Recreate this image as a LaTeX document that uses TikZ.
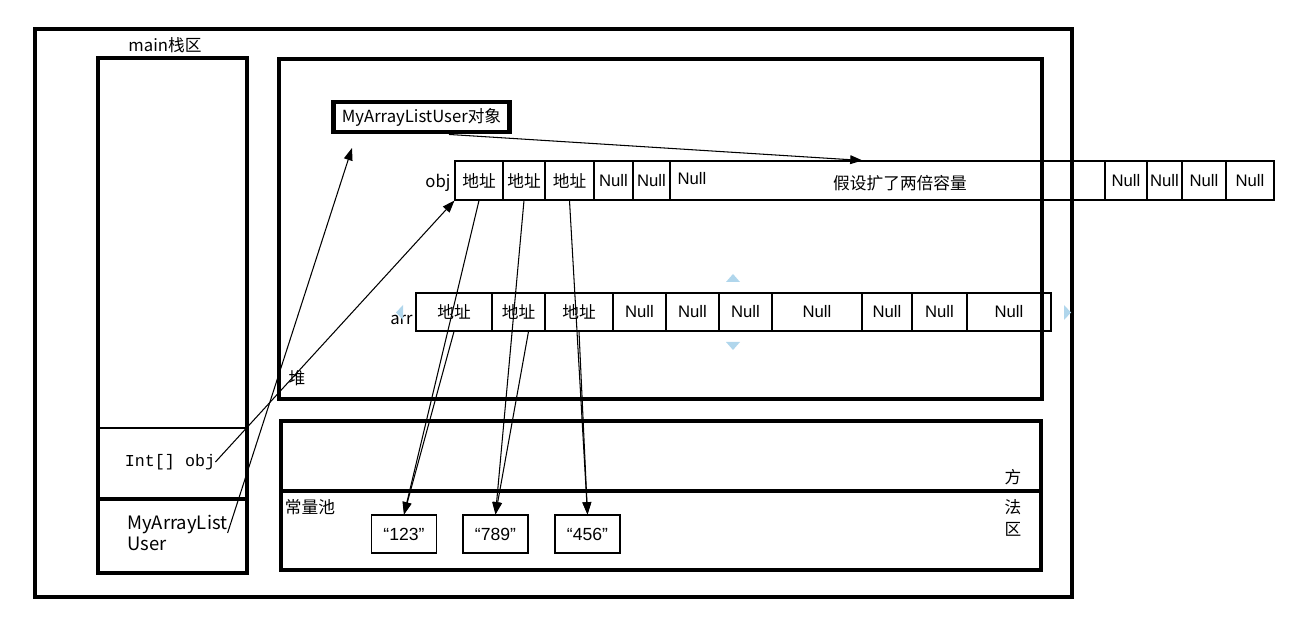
\documentclass[tikz,border=0pt]{standalone}
\usepackage{fontspec}
\setmainfont{Noto Sans CJK SC}
\newfontfamily\arialf{Liberation Sans}
\newfontfamily\monof{Liberation Mono}
\usetikzlibrary{arrows.meta,calc,positioning}
\definecolor{handleblue}{RGB}{176,214,236}
\tikzset{
  region/.style={draw, line width=2.4pt},
  objbox/.style={draw, line width=2.8pt, minimum width=3.52cm, minimum height=0.6cm, inner sep=0pt},
  cell/.style={draw, line width=0.6pt, inner sep=0pt},
  strbox/.style={draw, line width=0.6pt, minimum width=1.3cm, minimum height=0.76cm, font=\arialf\fontsize{10}{12}\selectfont},
  lbl/.style={inner sep=0pt},
  ref/.style={-{Triangle[length=7pt, width=5pt]}, line width=0.6pt},
  handle/.style={fill=handleblue},
}

\begin{document}
\begin{tikzpicture}[x=0.02cm, y=-0.02cm, font=\fontsize{9.5}{11}\selectfont]
  \useasboundingbox (0,0) rectangle (1296,617);

  % Regions
  \draw[region] (35,29) rectangle (1072,597);
  \draw[region] (98,58) rectangle (247,573);
  \draw[region] (279,59) rectangle (1042,399);
  \draw[region] (281,421) rectangle (1041,570);

  % Stack frame
  \draw[line width=0.6pt] (100,428) -- (245,428);
  \draw[region] (98,499) -- (247,499);
  \node[lbl] (stack) at (165,45) {main栈区};
  \node[lbl, font=\monof\fontsize{9.5}{11}\selectfont] (intobj) at (170,462) {Int[] obj};
  \node[lbl, anchor=west, align=left, font=\fontsize{10.5}{12}\selectfont] (user) at (127,533) {MyArrayList\\User};

  % Heap
  \node[lbl] (heap) at (297,378) {堆};
  \node[objbox] (obj) at (421.5,117) {MyArrayListUser对象};
  \coordinate (usertip) at (352,148);

  % obj array (doubled capacity)
  \foreach \l/\r/\t [count=\i] in {455/503/地址, 503/545/地址, 545/594/地址, 594/633/{\arialf Null}, 633/670/{\arialf Null}, 670/1105/{}, 1105/1147/{\arialf Null}, 1147/1182/{\arialf Null}, 1182/1226/{\arialf Null}, 1226/1274/{\arialf Null}}{
    \pgfmathsetmacro\w{(\r-\l)*0.02}
    \node[cell, minimum width=\w cm, minimum height=0.78cm] (o\i) at ({(\l+\r)/2},180.5) {\t};
  }
  \node[lbl, font=\arialf\fontsize{9.5}{11}\selectfont] (onull) at (692,179) {Null};
  \node[lbl] (grow) at (900,183) {假设扩了两倍容量};
  \node[lbl] (objname) at (438,183) {obj};

  % arr array
  \foreach \l/\r/\t [count=\i] in {416/492/地址, 492/545/地址, 545/613/地址, 613/666/{\arialf Null}, 666/719/{\arialf Null}, 719/772/{\arialf Null}, 772/862/{\arialf Null}, 862/912/{\arialf Null}, 912/967/{\arialf Null}, 967/1051/{\arialf Null}}{
    \pgfmathsetmacro\w{(\r-\l)*0.02}
    \node[cell, minimum width=\w cm, minimum height=0.76cm] (a\i) at ({(\l+\r)/2},312) {\t};
  }
  \node[lbl, anchor=east] (arrname) at (413,320) {arr};

  % selection handles
  \fill[handle] (726,282) -- (740,282) -- (733,274) -- cycle;
  \fill[handle] (726,342) -- (740,342) -- (733,350) -- cycle;
  \fill[handle] (403,305) -- (403,320) -- (396,312.5) -- cycle;
  \fill[handle] (1064,305) -- (1064,320) -- (1071,312.5) -- cycle;

  % Method area
  \draw[region] (281,491) -- (1041,491);
  \node[lbl] (pool) at (310,507) {常量池};
  \node[lbl] (m1) at (1013,477) {方};
  \node[lbl] (m2) at (1013,507) {法};
  \node[lbl] (m3) at (1013,529) {区};
  \node[strbox] (c123) at (404,534) {“123”};
  \node[strbox] (c789) at (495.5,534) {“789”};
  \node[strbox] (c456) at (587.5,534) {“456”};

  % References
  \draw[ref] (user.east) -- (usertip);
  \draw[ref] (intobj.east) -- (o1.south west);
  \draw[ref] ([xshift=0.55cm]obj.south) -- ([xshift=-0.5cm]o6.north);
  \draw[ref] (o1.south) -- (c123.north);
  \draw[ref] (o2.south) -- (c789.north);
  \draw[ref] (o3.south) -- (c456.north);
  \draw[ref] (a1.south) -- (c123.north);
  \draw[ref] ([xshift=0.2cm]a2.south) -- (c789.north);
  \draw[ref] (a3.south) -- (c456.north);
\end{tikzpicture}
\end{document}
